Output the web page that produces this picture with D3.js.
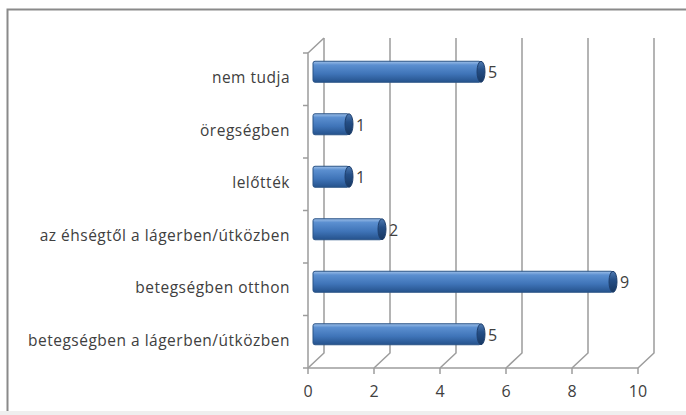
<!DOCTYPE html>
<html>
<head>
<meta charset="utf-8">
<script src="https://cdn.jsdelivr.net/npm/d3@7"></script>
<style>
  body { margin: 0; background: #fff; }
  text { font-family: "Open Sans", Lato, sans-serif; fill: #404040; }
</style>
</head>
<body>
<div id="chart"></div>
<script>
/** Data */
var categories = ["nem tudja", "öregségben", "lelőtték", "az éhségtől a lágerben/útközben", "betegségben otthon", "betegségben a lágerben/útközben"];
var values = [5, 1, 1, 2, 9, 5];
var xTicks = [0, 2, 4, 6, 8, 10];

var width = 686, height = 415;
var depth = {x: 16, y: -15};

var svg = d3.select("#chart").append("svg")
  .attr("width", width)
  .attr("height", height);

var defs = svg.append("defs");

// bar body gradient
var grad = defs.append("linearGradient")
  .attr("id", "barGrad")
  .attr("x1", "0%").attr("x2", "0%")
  .attr("y1", "0%").attr("y2", "100%");
grad.append("stop").attr("offset", "0%").attr("stop-color", "#9dbfe8");
grad.append("stop").attr("offset", "18%").attr("stop-color", "#5b8fd0");
grad.append("stop").attr("offset", "60%").attr("stop-color", "#3f74b8");
grad.append("stop").attr("offset", "100%").attr("stop-color", "#25528c");

var capGrad = defs.append("linearGradient")
  .attr("id", "capGrad")
  .attr("x1", "0%").attr("x2", "0%")
  .attr("y1", "0%").attr("y2", "100%");
capGrad.append("stop").attr("offset", "0%").attr("stop-color", "#4f7bb3");
capGrad.append("stop").attr("offset", "40%").attr("stop-color", "#254f87");
capGrad.append("stop").attr("offset", "100%").attr("stop-color", "#173761");

// outer frame
svg.append("rect")
  .attr("x", 0).attr("y", 411)
  .attr("width", width).attr("height", 4)
  .attr("fill", "#efefef");
svg.append("path")
  .attr("d", "M7.5,411 L7.5,9.5 L686,9.5")
  .attr("fill", "none")
  .attr("stroke", "#8a8a8a")
  .attr("stroke-width", 2);

// scales (front plane)
var x = d3.scaleLinear()
  .domain([0, 10])
  .range([308, 638]);

var y = d3.scaleBand()
  .domain(categories)
  .range([53, 368]);

var floorY = y.range()[1];
var topY = y.range()[0];

var grid = svg.append("g")
  .attr("fill", "none")
  .attr("stroke", "#9c9c9c")
  .attr("stroke-width", 1.5);

// back wall gridlines with floor diagonals
xTicks.forEach(function(t) {
  grid.append("path")
    .attr("d", "M" + x(t) + "," + floorY +
               " L" + (x(t) + depth.x) + "," + (floorY + depth.y) +
               " L" + (x(t) + depth.x) + "," + (topY + depth.y));
});

// left wall
grid.append("path")
  .attr("d", "M" + x(0) + "," + floorY + " L" + x(0) + "," + topY +
             " L" + (x(0) + depth.x) + "," + (topY + depth.y));

// front floor edge
grid.append("line")
  .attr("x1", x(0)).attr("x2", x(10))
  .attr("y1", floorY).attr("y2", floorY);

// x ticks
xTicks.forEach(function(t) {
  grid.append("line")
    .attr("x1", x(t)).attr("x2", x(t))
    .attr("y1", floorY).attr("y2", floorY + 6);
});

// category ticks
var bounds = categories.map(function(c) { return y(c); }).concat([floorY]);
bounds.forEach(function(b) {
  grid.append("line")
    .attr("x1", x(0) - 5).attr("x2", x(0))
    .attr("y1", b).attr("y2", b);
});

// x tick labels
svg.append("g").selectAll("text")
  .data(xTicks)
  .enter()
  .append("text")
    .attr("x", function(d) { return x(d); })
    .attr("y", floorY + 25)
    .attr("text-anchor", "middle")
    .attr("dominant-baseline", "middle")
    .style("font-size", "16px")
    .text(function(d) { return d; });

// category labels
svg.append("g").selectAll("text")
  .data(categories)
  .enter()
  .append("text")
    .attr("x", 290)
    .attr("y", function(d) { return y(d) + y.bandwidth() / 2; })
    .attr("text-anchor", "end")
    .attr("dominant-baseline", "middle")
    .style("font-size", "15.5px")
    .style("letter-spacing", "0.5px")
    .text(function(d) { return d; });

// bars
var barH = 21;
var bars = svg.append("g").selectAll("g")
  .data(categories)
  .enter()
  .append("g");

function barCy(c) { return y(c) + y.bandwidth() / 2 + depth.y / 2; }
function barStart() { return x(0) + depth.x / 2 - 3; }
function barEnd(i) { return x(values[i]) + depth.x / 2; }

bars.append("rect")
  .attr("x", barStart())
  .attr("y", function(d) { return barCy(d) - barH / 2; })
  .attr("width", function(d, i) { return barEnd(i) - barStart(); })
  .attr("height", barH)
  .attr("rx", 2)
  .attr("fill", "url(#barGrad)")
  .attr("stroke", "#2b5487")
  .attr("stroke-width", 1);

bars.append("ellipse")
  .attr("cx", function(d, i) { return barEnd(i); })
  .attr("cy", function(d) { return barCy(d); })
  .attr("rx", 4)
  .attr("ry", barH / 2)
  .attr("fill", "url(#capGrad)")
  .attr("stroke", "#1f406e")
  .attr("stroke-width", 1);

bars.append("text")
  .attr("x", function(d, i) { return barEnd(i) + 7; })
  .attr("y", function(d) { return barCy(d) + 2; })
  .attr("dominant-baseline", "middle")
  .style("font-size", "16px")
  .text(function(d, i) { return values[i]; });
</script>
</body>
</html>
